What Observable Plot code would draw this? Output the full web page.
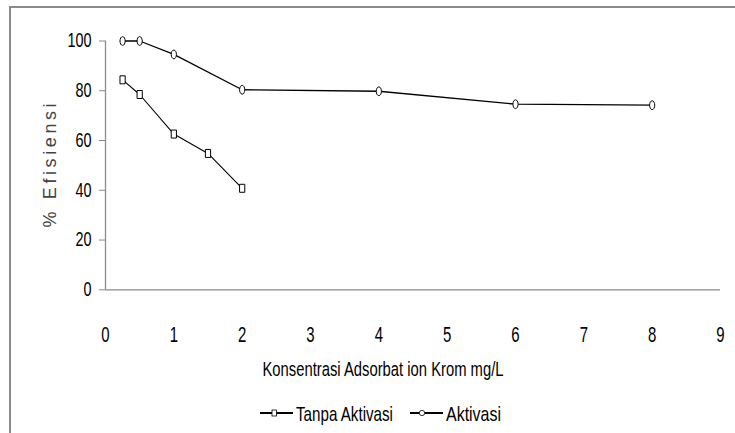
<!DOCTYPE html>
<html>
<head>
<meta charset="utf-8">
<script src="https://cdn.jsdelivr.net/npm/d3@7"></script>
<script src="https://cdn.jsdelivr.net/npm/@observablehq/plot@0.6"></script>
<style>
  html, body { margin: 0; padding: 0; background: #fff; width: 735px; height: 433px; overflow: hidden; }
  #wrap { position: relative; width: 735px; height: 433px; }
  #frame { position: absolute; left: 9px; top: 6px; width: 760px; height: 460px; border-top: 2px solid #8a8a8a; border-left: 2px solid #8a8a8a; box-sizing: border-box; }
  #chart { position: absolute; left: 0; top: 0; }
  #legend { position: absolute; left: 0; top: 395px; }
  svg { display: block; }
</style>
</head>
<body>
<div id="wrap">
  <div id="frame"></div>
  <div id="chart"></div>
  <div id="legend"></div>
</div>
<script>
const seriesNames = ["Tanpa Aktivasi", "Aktivasi"];
const xTanpa = [0.25, 0.5, 1, 1.5, 2];
const yTanpa = [84.4, 78.5, 62.6, 54.8, 40.8];
const xAktivasi = [0.25, 0.5, 1, 2, 4, 6, 8];
const yAktivasi = [100, 100, 94.6, 80.4, 79.8, 74.6, 74.2];
const xTicks = [0, 1, 2, 3, 4, 5, 6, 7, 8, 9];
const yTicks = [0, 20, 40, 60, 80, 100];
const xTitle = "Konsentrasi Adsorbat ion Krom mg/L";
const yTitle = "% Efisiensi";

const tanpa = xTanpa.map((x, i) => ({x, y: yTanpa[i], s: seriesNames[0]}));
const aktivasi = xAktivasi.map((x, i) => ({x, y: yAktivasi[i], s: seriesNames[1]}));

const k = 0.5523;
function ellipsePath(ctx, rx, ry) {
  ctx.moveTo(rx, 0);
  ctx.bezierCurveTo(rx, ry * k, rx * k, ry, 0, ry);
  ctx.bezierCurveTo(-rx * k, ry, -rx, ry * k, -rx, 0);
  ctx.bezierCurveTo(-rx, -ry * k, -rx * k, -ry, 0, -ry);
  ctx.bezierCurveTo(rx * k, -ry, rx, -ry * k, rx, 0);
  ctx.closePath();
}
const ellipseSym = {draw(ctx) { ellipsePath(ctx, 2.6, 4.4); }};
const rectSym = {draw(ctx) { ctx.rect(-2.6, -4, 5.2, 8); }};

const font = '"Liberation Sans", Arial, sans-serif';

const chart = Plot.plot({
  width: 735,
  height: 395,
  marginLeft: 105,
  marginRight: 15,
  marginTop: 40.5,
  marginBottom: 105.7,
  style: {fontFamily: font, fontSize: "20px", color: "#000", background: "transparent", overflow: "visible"},
  x: {domain: [0, 9]},
  y: {domain: [0, 100]},
  marks: [
    Plot.axisX({ticks: xTicks, tickSize: 0, tickPadding: 37, tickFormat: d => String(d), label: null, fontSize: 22}),
    Plot.axisY({ticks: yTicks, tickSize: 6, tickPadding: 8, stroke: "#8a8a8a", tickFormat: d => String(d), label: null, fontSize: 19.5}),
    Plot.ruleY([0], {stroke: "#8a8a8a", strokeWidth: 1.3}),
    Plot.ruleX([0], {stroke: "#8a8a8a", strokeWidth: 1.3}),
    Plot.line(tanpa, {x: "x", y: "y", stroke: "#000", strokeWidth: 1.1}),
    Plot.line(aktivasi, {x: "x", y: "y", stroke: "#000", strokeWidth: 1.3}),
    Plot.dot(tanpa, {x: "x", y: "y", symbol: rectSym, fill: "#fff", stroke: "#000", strokeWidth: 1}),
    Plot.dot(aktivasi, {x: "x", y: "y", symbol: ellipseSym, fill: "#fff", stroke: "#000", strokeWidth: 1}),
    Plot.text([yTitle], {text: d => d, frameAnchor: "left", rotate: -90, dx: -55, textAnchor: "middle", lineAnchor: "middle", fontFamily: font, fontSize: 18, fill: "#444", className: "ytitle"}),
    Plot.text([xTitle], {text: d => d, frameAnchor: "bottom", dy: 80, dx: -30, textAnchor: "middle", lineAnchor: "middle", fontSize: 20.5, fill: "#000", className: "xtitle"})
  ]
});
document.getElementById("chart").appendChild(chart);

// condense tick labels horizontally, around their own anchor
const sel = d3.select(chart);
sel.selectAll('g[aria-label="x-axis tick label"] text').attr("transform", function() { return (this.getAttribute("transform") || "") + " scale(0.68,1)"; });
sel.selectAll('g[aria-label="y-axis tick label"] text').attr("transform", function() { return (this.getAttribute("transform") || "") + " scale(0.74,1)"; });
sel.selectAll('.xtitle text').attr("textLength", 241).attr("lengthAdjust", "spacingAndGlyphs");
sel.selectAll('.ytitle text').attr("textLength", 124).attr("lengthAdjust", "spacing");

// legend (below the plot)
const lg = d3.select("#legend").append("svg").attr("width", 735).attr("height", 38)
  .style("font-family", font).style("font-size", "21px");
const items = [
  {name: seriesNames[0], kind: "rect", x: 260, textWidth: 97},
  {name: seriesNames[1], kind: "ellipse", x: 410, textWidth: 55}
];
const cy = 18;
items.forEach(it => {
  const g = lg.append("g").attr("transform", `translate(${it.x},0)`);
  g.append("line").attr("x1", 0).attr("x2", 33).attr("y1", cy).attr("y2", cy).attr("stroke", "#000").attr("stroke-width", 2);
  if (it.kind === "rect") g.append("rect").attr("x", 12).attr("y", cy - 3).attr("width", 4.5).attr("height", 6).attr("fill", "#fff").attr("stroke", "#000").attr("stroke-width", 0.8);
  else g.append("ellipse").attr("cx", 12).attr("cy", cy).attr("rx", 2.8).attr("ry", 2.6).attr("fill", "#fff").attr("stroke", "#000").attr("stroke-width", 0.8);
  g.append("text").attr("x", 36).attr("y", cy + 8).attr("fill", "#000")
    .attr("textLength", it.textWidth).attr("lengthAdjust", "spacingAndGlyphs").text(it.name);
});
</script>
</body>
</html>
